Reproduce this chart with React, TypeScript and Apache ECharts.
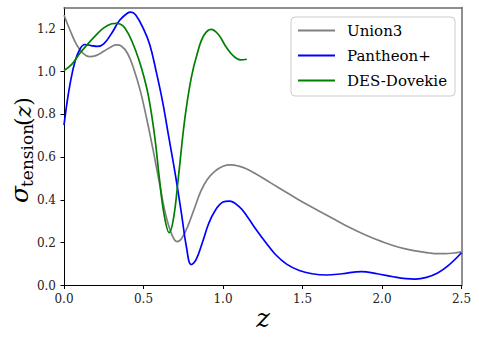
import React, { useEffect, useRef } from "react";
import * as echarts from "echarts";

const xTicks = [0, 0.5, 1.0, 1.5, 2.0, 2.5];
const yTicks = [0, 0.2, 0.4, 0.6, 0.8, 1.0, 1.2];

const seriesNames = ["Union3", "Pantheon+", "DES-Dovekie"];

const zUnion = [0, 0.04, 0.08, 0.12, 0.16, 0.20, 0.25, 0.30, 0.33, 0.36, 0.40, 0.44, 0.48, 0.52, 0.56, 0.60, 0.64, 0.68, 0.71, 0.74, 0.78, 0.82, 0.86, 0.90, 0.95, 1.00, 1.05, 1.10, 1.15, 1.20, 1.30, 1.40, 1.50, 1.60, 1.70, 1.80, 1.90, 2.00, 2.10, 2.20, 2.30, 2.35, 2.40, 2.45, 2.50];
const vUnion = [1.265, 1.19, 1.125, 1.085, 1.07, 1.075, 1.095, 1.118, 1.125, 1.12, 1.085, 1.01, 0.91, 0.78, 0.635, 0.48, 0.33, 0.235, 0.205, 0.22, 0.28, 0.36, 0.44, 0.495, 0.535, 0.558, 0.564, 0.558, 0.545, 0.525, 0.48, 0.435, 0.39, 0.35, 0.31, 0.27, 0.235, 0.205, 0.18, 0.163, 0.152, 0.149, 0.149, 0.152, 0.157];

const zPantheon = [0, 0.02, 0.04, 0.07, 0.10, 0.13, 0.17, 0.21, 0.25, 0.30, 0.35, 0.40, 0.42, 0.45, 0.50, 0.54, 0.58, 0.62, 0.66, 0.70, 0.74, 0.77, 0.80, 0.83, 0.87, 0.91, 0.95, 1.00, 1.04, 1.10, 1.15, 1.20, 1.27, 1.33, 1.40, 1.48, 1.56, 1.65, 1.75, 1.87, 1.97, 2.07, 2.15, 2.21, 2.28, 2.35, 2.42, 2.50];
const vPantheon = [0.75, 0.86, 0.95, 1.05, 1.105, 1.127, 1.122, 1.118, 1.13, 1.18, 1.24, 1.274, 1.278, 1.266, 1.2, 1.125, 1.0, 0.86, 0.69, 0.52, 0.33, 0.18, 0.098, 0.12, 0.2, 0.29, 0.35, 0.39, 0.395, 0.37, 0.325, 0.27, 0.2, 0.145, 0.1, 0.07, 0.055, 0.049, 0.055, 0.065, 0.055, 0.041, 0.032, 0.03, 0.038, 0.058, 0.095, 0.153];

const zDES = [0, 0.05, 0.10, 0.15, 0.20, 0.25, 0.30, 0.33, 0.37, 0.41, 0.45, 0.49, 0.53, 0.57, 0.60, 0.63, 0.662, 0.69, 0.72, 0.76, 0.80, 0.84, 0.88, 0.925, 0.97, 1.02, 1.07, 1.11, 1.15];
const vDES = [1.005, 1.035, 1.086, 1.13, 1.17, 1.205, 1.224, 1.226, 1.215, 1.17, 1.10, 1.01, 0.89, 0.7, 0.50, 0.33, 0.247, 0.32, 0.51, 0.78, 0.97, 1.09, 1.17, 1.198, 1.175, 1.115, 1.07, 1.055, 1.058];

const colors = ["#808080", "#0000ff", "#008000"];

const FONT = "DejaVu Serif";

function pairs(z: number[], v: number[]) {
  return z.map((x, i) => [x, v[i]]);
}

export default function App() {
  const ref = useRef<HTMLDivElement>(null);
  useEffect(() => {
    if (!ref.current) return;
    const chart = echarts.init(ref.current, null, { renderer: "svg" });
    const datasets = [pairs(zUnion, vUnion), pairs(zPantheon, vPantheon), pairs(zDES, vDES)];
    chart.setOption({
      animation: false,
      backgroundColor: "#ffffff",
      textStyle: { fontFamily: FONT },
      grid: { left: 64, right: 17.5, top: 7.5, bottom: 58.5, containLabel: false },
      xAxis: [
        {
          type: "value",
          min: 0,
          max: 2.5,
          interval: 0.5,
          axisLine: { show: true, onZero: false, lineStyle: { color: "#000", width: 1 } },
          axisTick: { show: true, inside: false, length: 3.5, lineStyle: { color: "#000" }, customValues: xTicks },
          axisLabel: {
            margin: 7,
            color: "#222",
            fontFamily: FONT,
            fontSize: 12,
            customValues: xTicks,
            formatter: (v: number) => v.toFixed(1),
          },
          splitLine: { show: false },
        },
        {
          type: "value",
          position: "top",
          min: 0,
          max: 2.5,
          axisLine: { show: true, onZero: false, lineStyle: { color: "#6a6a6a", width: 1.5 } },
          axisTick: { show: false },
          axisLabel: { show: false },
          splitLine: { show: false },
        },
      ],
      yAxis: [
        {
          type: "value",
          min: 0,
          max: 1.3,
          interval: 0.2,
          axisLine: { show: true, onZero: false, lineStyle: { color: "#000", width: 1 } },
          axisTick: { show: true, inside: false, length: 3.5, lineStyle: { color: "#000" }, customValues: yTicks },
          axisLabel: {
            margin: 8,
            color: "#222",
            fontFamily: FONT,
            fontSize: 12,
            customValues: yTicks,
            formatter: (v: number) => v.toFixed(1),
          },
          splitLine: { show: false },
        },
        {
          type: "value",
          position: "right",
          min: 0,
          max: 1.3,
          axisLine: { show: true, onZero: false, lineStyle: { color: "#6a6a6a", width: 1.5 } },
          axisTick: { show: false },
          axisLabel: { show: false },
          splitLine: { show: false },
        },
      ],
      legend: {
        show: true,
        orient: "vertical",
        left: 291,
        top: 17,
        padding: [1, 8, 3, 7],
        itemGap: 0,
        itemWidth: 37,
        itemHeight: 2,
        icon: "rect",
        backgroundColor: "rgba(255,255,255,0.85)",
        borderColor: "#cccccc",
        borderWidth: 1,
        borderRadius: 4,
        textStyle: {
          fontFamily: FONT,
          fontSize: 15,
          color: "#000",
          lineHeight: 25,
          padding: [0, 0, 0, 7],
        },
        data: seriesNames,
      },
      series: seriesNames.map((name, i) => ({
        name,
        type: "line",
        xAxisIndex: 0,
        yAxisIndex: 0,
        data: datasets[i],
        smooth: 0.4,
        showSymbol: false,
        symbol: "none",
        clip: true,
        lineStyle: { color: colors[i], width: 1.7 },
        itemStyle: { color: colors[i] },
      })),
      graphic: [
        {
          type: "text",
          x: 263,
          y: 318,
          style: {
            text: "z",
            fontFamily: FONT,
            fontStyle: "italic",
            fontSize: 26,
            fill: "#000",
            align: "center",
            verticalAlign: "middle",
          },
        },
        {
          type: "group",
          x: 0,
          y: 203,
          rotation: Math.PI / 2,
          children: [
            {
              type: "text",
              x: 0,
              y: 19.5,
              style: {
                text: "σ",
                fontFamily: FONT,
                fontStyle: "italic",
                fontSize: 25,
                fill: "#000",
                align: "left",
                verticalAlign: "middle",
              },
            },
            {
              type: "text",
              x: 16,
              y: 26.5,
              style: {
                text: "tension",
                fontFamily: FONT,
                fontSize: 17,
                fill: "#000",
                align: "left",
                verticalAlign: "middle",
              },
            },
            {
              type: "text",
              x: 77,
              y: 23,
              style: {
                text: "({i|z})",
                fontFamily: FONT,
                fontSize: 22,
                fill: "#000",
                align: "left",
                verticalAlign: "middle",
                rich: {
                  i: { fontFamily: FONT, fontStyle: "italic", fontSize: 22, fill: "#000" },
                },
              },
            },
          ],
        },
      ],
    });
    return () => chart.dispose();
  }, []);
  return (
    <div
      ref={ref}
      style={{ position: "fixed", left: 0, top: 0, width: 479, height: 344, background: "#fff" }}
    />
  );
}
